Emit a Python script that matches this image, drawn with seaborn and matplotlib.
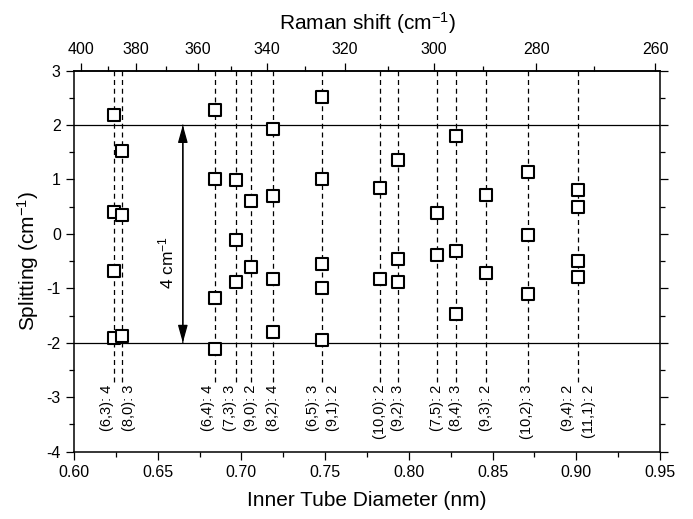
import seaborn as sns
import matplotlib.pyplot as plt
import numpy as np
import pandas as pd
from matplotlib.ticker import MultipleLocator, FixedLocator

# tubes: chirality, inner diameter (nm), number of split components
tube_names = ["(6,3)", "(8,0)", "(6,4)", "(7,3)", "(9,0)", "(8,2)", "(6,5)", "(9,1)",
              "(10,0)", "(9,2)", "(7,5)", "(8,4)", "(9,3)", "(10,2)", "(9,4)", "(11,1)"]
tube_diam = [0.624, 0.6286, 0.684, 0.697, 0.706, 0.719, 0.748, 0.748,
             0.7826, 0.7936, 0.8166, 0.828, 0.846, 0.871, 0.9012, 0.9012]
tube_count = [4, 3, 4, 3, 2, 4, 3, 2, 2, 3, 2, 3, 2, 3, 2, 2]

# measured splittings (cm-1)
point_diam = [0.624, 0.624, 0.624, 0.624,
              0.6286, 0.6286, 0.6286,
              0.684, 0.684, 0.684, 0.684,
              0.697, 0.697, 0.697,
              0.706, 0.706,
              0.719, 0.719, 0.719, 0.719,
              0.748, 0.748, 0.748, 0.748, 0.748,
              0.7826, 0.7826,
              0.7936, 0.7936, 0.7936,
              0.8166, 0.8166,
              0.828, 0.828, 0.828,
              0.846, 0.846,
              0.871, 0.871, 0.871,
              0.9012, 0.9012, 0.9012, 0.9012]
point_split = [2.18, 0.40, -0.68, -1.91,
               1.52, 0.35, -1.88,
               2.27, 1.00, -1.17, -2.11,
               0.99, -0.11, -0.88,
               0.61, -0.61,
               1.93, 0.70, -0.83, -1.81,
               2.51, 1.00, -0.56, -1.00, -1.95,
               0.84, -0.83,
               1.36, -0.47, -0.88,
               0.38, -0.38,
               1.80, -0.31, -1.48,
               0.72, -0.71,
               1.13, -0.02, -1.11,
               0.81, 0.49, -0.49, -0.80]

# label shift from its dashed line (nm), just for placement
label_shift = [-0.004, 0.0044, -0.004, -0.004, 0, 0, -0.005, 0.0066,
               0, 0, 0, 0, 0, -0.0005, -0.0062, 0.0064]

# Raman shift (cm-1) = A / d + B
A_RBM, B_RBM = 233.4, 13.6

sns.set_theme(style="ticks")
plt.rcParams["font.family"] = ["Liberation Sans", "DejaVu Sans"]
plt.rcParams["mathtext.fontset"] = "custom"
plt.rcParams["mathtext.rm"] = "Liberation Sans"
plt.rcParams["mathtext.it"] = "Liberation Sans:italic"
for key in ["text.color", "axes.labelcolor", "xtick.color", "ytick.color",
            "axes.edgecolor"]:
    plt.rcParams[key] = "black"

fig = plt.figure(figsize=(6.93, 5.19), dpi=100)
ax = fig.add_axes([74 / 693, 1 - 451.6 / 519, 586 / 693, 381 / 519])

df = pd.DataFrame({"diam": point_diam, "split": point_split})

# dashed guides for every tube
ax.vlines(sorted(set(tube_diam)), -2.72, 3, colors="black", linewidth=0.9,
          linestyles=(0, (4, 3)), zorder=1)
ax.axhline(2, color="black", linewidth=0.9, zorder=1)
ax.axhline(-2, color="black", linewidth=0.9, zorder=1)

sns.scatterplot(data=df, x="diam", y="split", marker="s", s=64,
                facecolor="white", edgecolor="black", linewidth=1.5,
                zorder=3, ax=ax)

for name, d, n, dx in zip(tube_names, tube_diam, tube_count, label_shift):
    ax.text(d + dx, -2.77, f"{name}: {n}", rotation=90, ha="center", va="top",
            fontsize=10.5)

# 4 cm-1 arrow
ax.annotate("", xy=(0.665, 2), xytext=(0.665, -2),
            arrowprops=dict(arrowstyle="-|>,head_length=0.9,head_width=0.25",
                            color="black", lw=0.9, shrinkA=0, shrinkB=0))
ax.annotate("", xy=(0.665, -2), xytext=(0.665, 2),
            arrowprops=dict(arrowstyle="-|>,head_length=0.9,head_width=0.25",
                            color="black", lw=0.9, shrinkA=0, shrinkB=0))
ax.text(0.6555, -0.53, "4 cm$^{-1}$", rotation=90, ha="center", va="center",
        fontsize=12.5)

ax.set_xlim(0.60, 0.95)
ax.set_ylim(-4, 3)
ax.xaxis.set_major_locator(MultipleLocator(0.05))
ax.xaxis.set_minor_locator(MultipleLocator(0.025))
ax.yaxis.set_major_locator(MultipleLocator(1))
ax.yaxis.set_minor_locator(MultipleLocator(0.5))
ax.xaxis.set_major_formatter(plt.FuncFormatter(lambda v, p: f"{v:.2f}"))
ax.yaxis.set_major_formatter(plt.FuncFormatter(lambda v, p: f"{v:.0f}"))
ax.tick_params(which="both", direction="out", width=0.9, labelsize=11.5,
               right=True, color="black")
ax.tick_params(which="major", length=6)
ax.tick_params(which="minor", length=3.5)
for sp in ax.spines.values():
    sp.set_visible(True)
    sp.set_linewidth(1.1)
    sp.set_color("black")

ax.set_xlabel("Inner Tube Diameter (nm)", fontsize=15, labelpad=8)
ax.set_ylabel("Splitting (cm$^{-1}$)", fontsize=15, labelpad=4)

top = ax.secondary_xaxis("top", functions=(lambda d: A_RBM / d + B_RBM,
                                           lambda w: A_RBM / (w - B_RBM)))
top.set_xticks(np.arange(260, 401, 20))
top.xaxis.set_minor_locator(FixedLocator(np.arange(270, 400, 20)))
top.xaxis.set_major_formatter(plt.FuncFormatter(lambda v, p: f"{v:.0f}"))
top.tick_params(which="both", direction="out", width=0.9, labelsize=11.5, color="black")
top.tick_params(which="major", length=6)
top.tick_params(which="minor", length=3.5)
top.spines["top"].set_linewidth(1.1)
top.set_xlabel("Raman shift (cm$^{-1}$)", fontsize=15, labelpad=9)

plt.savefig("out.png", dpi=100)
